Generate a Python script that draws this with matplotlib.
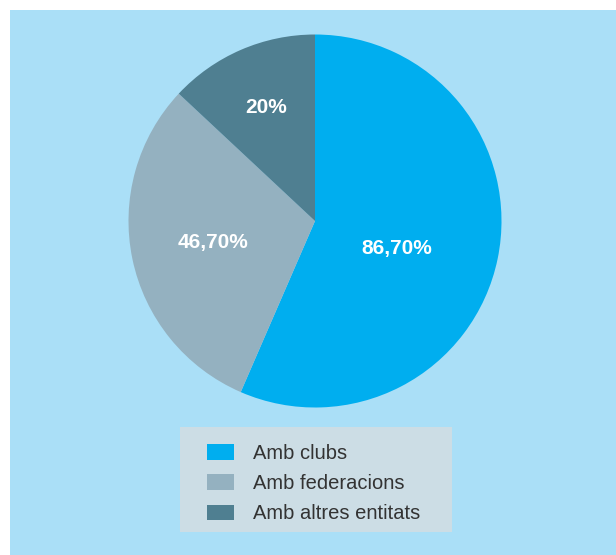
import matplotlib.pyplot as plt
from matplotlib.patches import Rectangle, Patch

# === DATA ===
labels = ['Amb clubs', 'Amb federacions', 'Amb altres entitats']
values = [86.70, 46.70, 20]
value_texts = ['86,70%', '46,70%', '20%']
colors = ['#00aeef', '#94b1c0', '#4f7f91']

# label positions inside the pie (radius units)
text_pos = [(0.44, -0.145), (-0.548, -0.113), (-0.263, 0.608)]

W, H = 616, 555
fig = plt.figure(figsize=(W / 100, H / 100), dpi=100)
fig.patch.set_facecolor('white')

# light blue panel
fig.patches.append(Rectangle((10 / W, 0), 1 - 10 / W, 1 - 10 / H,
                             transform=fig.transFigure, facecolor='#aadff7',
                             edgecolor='none', zorder=-10))

# pie
cx, cy, r = 315, 221, 186.5
ax = fig.add_axes([(cx - r) / W, 1 - (cy + r) / H, 2 * r / W, 2 * r / H])
ax.pie(values, colors=colors, startangle=90, counterclock=False,
       wedgeprops=dict(linewidth=0), radius=1)
ax.set_xlim(-1, 1)
ax.set_ylim(-1, 1)
ax.set_aspect('auto')
ax.axis('off')
for (tx, ty), t in zip(text_pos, value_texts):
    ax.text(tx, ty, t, ha='center', va='center', color='white',
            fontsize=15, fontweight='bold', family='Liberation Sans')

# legend box
fig.patches.append(Rectangle((180 / W, 1 - 532 / H), 272 / W, 105 / H,
                             transform=fig.transFigure, facecolor='#ccdde5',
                             edgecolor='none', zorder=-5))
handles = [Patch(facecolor=c, edgecolor='none') for c in colors]
leg = fig.legend(handles, labels, loc='upper left',
                 bbox_to_anchor=(197 / W, 1 - 434 / H), frameon=False,
                 borderpad=0, handlelength=1.35, handleheight=0.8,
                 handletextpad=0.95, labelspacing=0.55,
                 prop=dict(family='Liberation Sans', size=14.5))
for t in leg.get_texts():
    t.set_color('#333333')

fig.savefig('out.png', dpi=100)
